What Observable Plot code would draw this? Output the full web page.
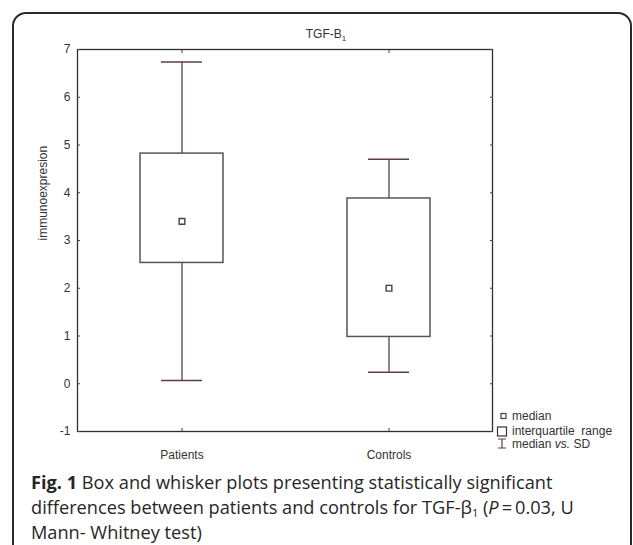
<!DOCTYPE html>
<html>
<head>
<meta charset="utf-8">
<script src="https://cdn.jsdelivr.net/npm/d3@7"></script>
<script src="https://cdn.jsdelivr.net/npm/@observablehq/plot@0.6"></script>
<style>
  html, body { margin: 0; padding: 0; background: #fff; }
  #wrap { position: relative; width: 633px; height: 545px; overflow: hidden; }
  #card { position: absolute; left: 12px; top: 12px; width: 620px; height: 700px;
          border: 2px solid #2a2a2a; border-radius: 14px; box-sizing: border-box; pointer-events: none; }
  #chart { position: absolute; left: 0; top: 0; }
  #caption { position: absolute; left: 31px; top: 470px; font-family: "Open Sans", sans-serif;
             font-size: 18.2px; line-height: 25px; color: #262626; font-weight: 400; white-space: nowrap; }
  #caption b { font-weight: 700; }
  #caption sub { font-size: 11px; vertical-align: -3px; line-height: 0; }
</style>
</head>
<body>
<div id="wrap">
  <div id="chart"></div>
  <div id="caption"><b>Fig. 1</b> Box and whisker plots presenting statistically significant<br>differences between patients and controls for TGF-β<sub>1</sub> (<i>P</i>&thinsp;=&thinsp;0.03, U<br>Mann- Whitney test)</div>
  <div id="card"></div>
</div>
<script>
const groups = ["Patients", "Controls"];
const medians = [3.4, 2.0];
const q1s = [2.53, 0.98];
const q3s = [4.82, 3.88];
const los = [0.07, 0.24];
const his = [6.74, 4.70];
const yTicks = [-1, 0, 1, 2, 3, 4, 5, 6, 7];

const data = groups.map((g, i) => ({group: g, median: medians[i], q1: q1s[i], q3: q3s[i], lo: los[i], hi: his[i]}));

const whisk = "#5e4040";
const boxc = "#555";
const font = "Liberation Sans, Arial, sans-serif";

const plot = Plot.plot({
  width: 633,
  height: 470,
  marginLeft: 77,
  marginRight: 141,
  marginTop: 49,
  marginBottom: 39,
  style: {fontFamily: font, fontSize: "12px", color: "#333", background: "white"},
  x: {type: "band", domain: groups, paddingInner: 0.6, paddingOuter: 0.3, label: null},
  y: {domain: [-1, 7], label: null},
  marks: [
    Plot.frame({stroke: "#2e2e2e", strokeWidth: 1.3}),
    Plot.axisY(yTicks, {anchor: "left", tickSize: -3, tickPadding: 10, label: null, tickFormat: d => String(d), fill: "#333", stroke: "#444"}),
    Plot.axisY(yTicks, {anchor: "right", tickSize: -3, tickFormat: () => "", label: null, stroke: "#444"}),
    Plot.axisX({anchor: "top", tickSize: -3, tickFormat: () => "", label: null, stroke: "#444"}),
    Plot.axisX({anchor: "bottom", tickSize: -3, tickPadding: 22, label: null, fill: "#333", stroke: "#444"}),
    Plot.text(["immunoexpresion"], {frameAnchor: "left", rotate: -90, dx: -34, fill: "#333", fontSize: 12}),
    // whiskers
    Plot.ruleX(data, {x: "group", y1: "q3", y2: "hi", stroke: whisk, strokeWidth: 1.3}),
    Plot.ruleX(data, {x: "group", y1: "lo", y2: "q1", stroke: whisk, strokeWidth: 1.3}),
    Plot.tickY(data, {x: "group", y: "hi", stroke: whisk, strokeWidth: 1.5, insetLeft: 21, insetRight: 21}),
    Plot.tickY(data, {x: "group", y: "lo", stroke: whisk, strokeWidth: 1.5, insetLeft: 21, insetRight: 21}),
    // boxes
    Plot.rectY(data, {x: "group", y1: "q1", y2: "q3", fill: "none", stroke: boxc, strokeWidth: 1.5}),
    // median
    Plot.dot(data, {x: "group", y: "median", symbol: "square", r: 3.2, fill: "white", stroke: "#4a4040", strokeWidth: 1.4})
  ]
});

document.getElementById("chart").appendChild(plot);

// Title and legend (annotation, not data)
const svg = d3.select(plot);
const title = svg.append("text").attr("x", 326).attr("y", 38).attr("text-anchor", "middle")
  .attr("font-family", font).attr("font-size", 12).attr("fill", "#333");
title.append("tspan").text("TGF-B");
title.append("tspan").attr("font-size", 8).attr("dy", 3).text("1");

const lg = svg.append("g").attr("font-family", font).attr("font-size", 12).attr("fill", "#333")
  .attr("text-anchor", "start");
lg.append("rect").attr("x", 501).attr("y", 413.5).attr("width", 5).attr("height", 5)
  .attr("fill", "white").attr("stroke", "#4a4040").attr("stroke-width", 1.2);
lg.append("text").attr("x", 512).attr("y", 420).text("median");
lg.append("rect").attr("x", 497.5).attr("y", 427).attr("width", 9).attr("height", 9)
  .attr("fill", "white").attr("stroke", "#333").attr("stroke-width", 1.2);
lg.append("text").attr("x", 512).attr("y", 435).attr("xml:space", "preserve").text("interquartile  range");
lg.append("path").attr("d", "M498,439H506M502,439V448M498,448H506").attr("stroke", whisk).attr("stroke-width", 1.2).attr("fill", "none");
const t3 = lg.append("text").attr("x", 512).attr("y", 448);
t3.append("tspan").text("median ");
t3.append("tspan").attr("font-style", "italic").text("vs.");
t3.append("tspan").text(" SD");
</script>
</body>
</html>
